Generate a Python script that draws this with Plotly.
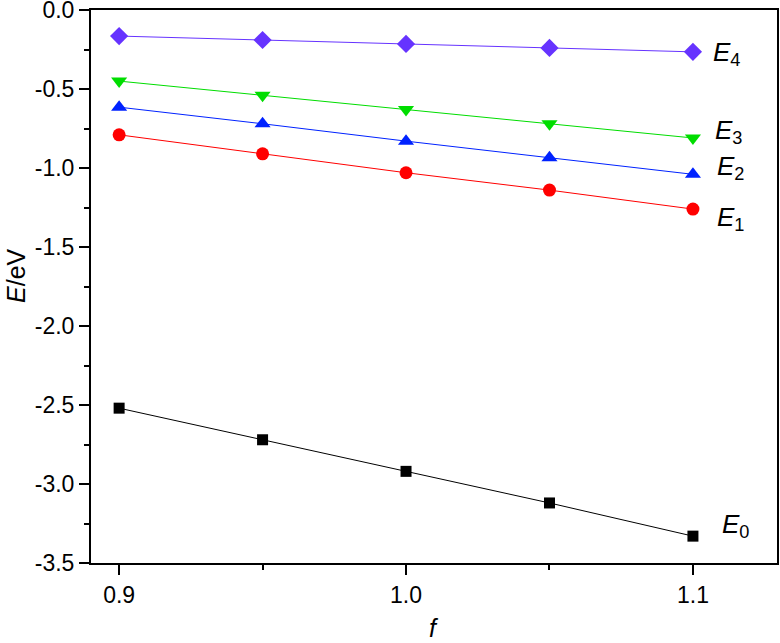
import plotly.graph_objects as go

f_vals = [0.9, 0.95, 1.0, 1.05, 1.1]
E0 = [-2.52, -2.72, -2.92, -3.12, -3.33]
E1 = [-0.79, -0.91, -1.03, -1.14, -1.26]
E2 = [-0.615, -0.72, -0.83, -0.935, -1.04]
E3 = [-0.45, -0.54, -0.63, -0.72, -0.81]
E4 = [-0.165, -0.19, -0.215, -0.24, -0.265]

x_tickvals = [0.9, 1.0, 1.1]
x_ticktext = ["0.9", "1.0", "1.1"]
y_tickvals = [0.0, -0.5, -1.0, -1.5, -2.0, -2.5, -3.0, -3.5]
y_ticktext = ["0.0", "-0.5", "-1.0", "-1.5", "-2.0", "-2.5", "-3.0", "-3.5"]

series = [
    ("E0", E0, "#000000", "square", 11),
    ("E1", E1, "#FF0000", "circle", 13),
    ("E2", E2, "#0022FF", "triangle-up", 14),
    ("E3", E3, "#00DD00", "triangle-down", 14),
    ("E4", E4, "#6633FF", "diamond", 14),
]

label_pos = {
    "E0": (1.1094, -3.26),
    "E1": (1.1077, -1.32),
    "E2": (1.1077, -0.995),
    "E3": (1.1070, -0.766),
    "E4": (1.1063, -0.275),
}

FONT = "Liberation Sans, Arial"

fig = go.Figure()
for name, ys, col, sym, sz in series:
    fig.add_trace(go.Scatter(
        x=f_vals, y=ys, mode="lines+markers",
        line=dict(color=col, width=1),
        marker=dict(symbol=sym, size=sz, color=col),
        showlegend=False,
    ))
    lx, ly = label_pos[name]
    fig.add_annotation(
        x=lx, y=ly, xref="x", yref="y",
        text="<i>E</i><sub>%s</sub>" % name[1],
        showarrow=False, xanchor="left", yanchor="middle",
        font=dict(family=FONT, size=26, color="black"),
    )

fig.update_layout(
    width=780, height=643,
    margin=dict(l=91, r=3, t=10, b=80, autoexpand=False),
    plot_bgcolor="white", paper_bgcolor="white",
    font=dict(family=FONT, size=23, color="black"),
)
# plot area: x 91..777, y 10..563 (width 686, height 553)
fig.add_annotation(
    x=-(91 - 16) / 686, y=(563 - 276) / 553, xref="paper", yref="paper",
    text="<i>E</i>/eV", textangle=-90, showarrow=False,
    xanchor="center", yanchor="middle",
    font=dict(family=FONT, size=25, color="black"),
)
fig.add_annotation(
    x=(434 - 91) / 686, y=-(628 - 563) / 553, xref="paper", yref="paper",
    text="<i>f</i>", showarrow=False,
    xanchor="center", yanchor="middle",
    font=dict(family=FONT, size=25, color="black"),
)

fig.update_xaxes(
    range=[0.8902, 1.1293], automargin=False, ticklabeloverflow="allow",
    tickvals=x_tickvals, ticktext=x_ticktext,
    ticks="outside", ticklen=10, tickwidth=2, tickcolor="black",
    minor=dict(tickvals=[0.95, 1.05], ticks="outside", ticklen=5, tickwidth=2, tickcolor="black"),
    showline=True, linewidth=2, linecolor="black", mirror=True,
    showgrid=False, zeroline=False,
)
fig.update_yaxes(
    range=[-3.5, 0.0], automargin=False, ticklabeloverflow="allow",
    tickvals=y_tickvals, ticktext=y_ticktext,
    ticks="outside", ticklen=10, tickwidth=2, tickcolor="black",
    minor=dict(tickvals=[-0.25, -0.75, -1.25, -1.75, -2.25, -2.75, -3.25], ticks="outside", ticklen=5, tickwidth=2, tickcolor="black"),
    showline=True, linewidth=2, linecolor="black", mirror=True,
    showgrid=False, zeroline=False,
)

fig.write_html(
    "out.html",
    config={"displayModeBar": False},
    post_script="document.body.style.margin='0px';document.body.style.overflow='hidden';",
)
